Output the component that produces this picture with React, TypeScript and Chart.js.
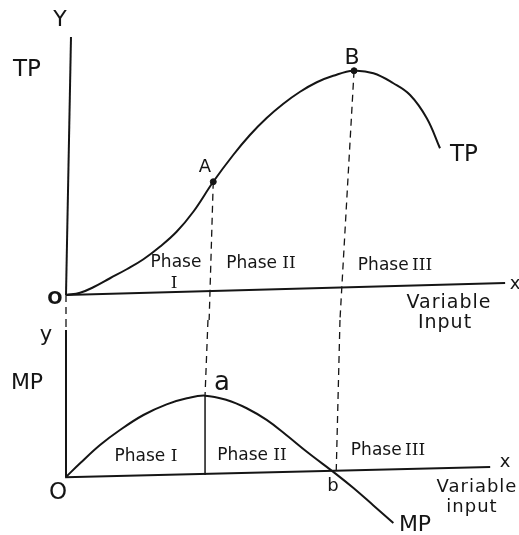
import React, { useEffect, useRef } from "react";
import { Chart, registerables } from "chart.js";
Chart.register(...registerables);

// ---------- DATA ----------
// Top panel: total product (TP) against variable input
const tpInput = [0, 0.48, 0.93, 1.5, 2.07, 2.64, 3.2, 3.77, 4.34, 5.02, 5.7, 6.27, 6.84, 7.41, 7.98, 8.55, 9.11, 9.8, 10.48, 11.16, 11.73, 12.3, 12.75];
const tpValues = [0, 0.9, 3.1, 6.7, 10.3, 14.3, 19.3, 25.3, 33.3, 45.3, 56, 64, 70.8, 76.5, 81.3, 85.1, 87.7, 89.7, 88.7, 84.7, 80, 70.7, 58.7];
// Key points on TP: A (inflection) and B (maximum)
const tpKeyInput = [5.02, 9.82];
const tpKeyValues = [45.3, 89.7];
// Bottom panel: marginal product (MP)
const mpInput = [0, 0.48, 1.16, 1.84, 2.64, 3.43, 4.12, 4.74, 5.48, 6.16, 6.84, 7.52, 8.21, 9.21, 9.8, 10.48, 11.16];
const mpValues = [-1.3, 7.8, 20, 30, 40, 47.1, 51.1, 52.9, 50, 44.5, 36.7, 26.5, 15.5, 0.6, -8.7, -20.3, -32];
// Key points on MP: a (maximum) and b (zero)
const mpKeyInput = [4.74, 9.21];
const mpKeyValues = [52.9, 0.6];
// Guide-line feet where the dashed drops cross the panel edges
const topDropInput = [0, 4.88, 9.34];
const bottomDropInput = [0, 4.84, 9.34];

const INK = "#151515";

type Lbl = { t: string; x: number; y: number; s: number; num?: string; ff?: string; w?: string; ls?: number };

const SANS = "'DejaVu Sans', sans-serif";
const SERIF = "'DejaVu Serif', serif";

function labelPlugin(id: string, labels: Lbl[]) {
  return {
    id,
    afterDraw(chart: any) {
      const ctx = chart.ctx as any;
      ctx.save();
      ctx.fillStyle = INK;
      ctx.textBaseline = "middle";
      for (const l of labels) {
        ctx.letterSpacing = `${l.ls || 0}px`;
        if (l.num) {
          ctx.font = `${l.s}px ${SANS}`;
          const w1 = ctx.measureText(l.t).width;
          ctx.font = `${l.s}px ${SERIF}`;
          const w2 = ctx.measureText(l.num).width;
          const start = l.x - (w1 + w2) / 2;
          ctx.textAlign = "left";
          ctx.font = `${l.s}px ${SANS}`;
          ctx.fillText(l.t, start, l.y);
          ctx.font = `${l.s}px ${SERIF}`;
          ctx.fillText(l.num, start + w1, l.y);
        } else {
          ctx.textAlign = "center";
          ctx.font = `${l.w || ""} ${l.s}px ${l.ff || SANS}`;
          ctx.fillText(l.t, l.x, l.y);
        }
      }
      ctx.restore();
    },
  };
}

const topLabels: Lbl[] = [
  { t: "Y", x: 60, y: 20, s: 22 },
  { t: "TP", x: 27, y: 70, s: 23 },
  { t: "O", x: 55, y: 299, s: 18, w: "bold" },
  { t: "A", x: 205, y: 167, s: 18 },
  { t: "B", x: 352, y: 58, s: 22 },
  { t: "TP", x: 464, y: 155, s: 23 },
  { t: "Phase", x: 176, y: 263, s: 17 },
  { t: "I", x: 174, y: 284, s: 17, ff: SERIF },
  { t: "Phase ", num: "II", x: 261, y: 264, s: 17 },
  { t: "Phase\u2009", num: "III", x: 395, y: 266, s: 17 },
  { t: "x", x: 515, y: 284, s: 18 },
  { t: "Variable", x: 449, y: 303, s: 19, ls: 1 },
  { t: "Input", x: 445, y: 323, s: 19, ls: 1 },
];

const bottomLabels: Lbl[] = [
  { t: "y", x: 46, y: 16, s: 21 },
  { t: "MP", x: 27, y: 63, s: 22 },
  { t: "a", x: 222, y: 63, s: 26 },
  { t: "O", x: 58, y: 173, s: 23 },
  { t: "b", x: 333, y: 166, s: 18 },
  { t: "MP", x: 415, y: 205, s: 22 },
  { t: "Phase ", num: "I", x: 146, y: 137, s: 17 },
  { t: "Phase ", num: "II", x: 252, y: 136, s: 17 },
  { t: "Phase\u2009", num: "III", x: 388, y: 131, s: 17 },
  { t: "x", x: 505, y: 142, s: 18 },
  { t: "Variable", x: 477, y: 167, s: 18, ls: 1 },
  { t: "input", x: 472, y: 187, s: 18, ls: 1 },
];

const line = (data: { x: number; y: number }[], opts: any = {}) => ({
  data,
  showLine: true,
  borderColor: INK,
  backgroundColor: INK,
  borderWidth: 1.3,
  pointRadius: 0,
  clip: false,
  ...opts,
});

function baseOptions(yMin: number, yMax: number, padTop: number, padBottom: number) {
  return {
    responsive: false,
    animation: false as const,
    devicePixelRatio: 1,
    layout: { padding: { left: 66, right: 13, top: padTop, bottom: padBottom } },
    plugins: { legend: { display: false }, tooltip: { enabled: false }, title: { display: false } },
    scales: {
      x: { type: "linear" as const, min: 0, max: 15, display: false },
      y: { type: "linear" as const, min: yMin, max: yMax, display: false },
    },
    events: [] as any[],
  };
}

export default function App() {
  const topRef = useRef<HTMLCanvasElement>(null);
  const botRef = useRef<HTMLCanvasElement>(null);

  useEffect(() => {
    document.body.style.margin = "0";
    const tpCurve = tpInput.map((x, i) => ({ x, y: tpValues[i] }));
    const mpCurve = mpInput.map((x, i) => ({ x, y: mpValues[i] }));
    const dash = [7, 5];

    const top = new Chart(topRef.current!, {
      type: "scatter",
      data: {
        datasets: [
          // axes
          line([{ x: 0, y: 0 }, { x: 14.97, y: 4.8 }], { borderWidth: 2 }),
          line([{ x: 0, y: 0 }, { x: 0.17, y: 103.2 }], { borderWidth: 2 }),
          // guide drops
          line([{ x: 0, y: 0 }, { x: topDropInput[0], y: -10 }], { borderDash: dash }),
          line([{ x: tpKeyInput[0], y: tpKeyValues[0] }, { x: topDropInput[1], y: -10 }], { borderDash: dash }),
          line([{ x: tpKeyInput[1], y: tpKeyValues[1] }, { x: topDropInput[2], y: -10 }], { borderDash: dash }),
          // TP curve
          line(tpCurve, { borderWidth: 2, tension: 0.4 }),
          // key points
          {
            data: tpKeyInput.map((x, i) => ({ x, y: tpKeyValues[i] })),
            pointRadius: 3,
            pointBackgroundColor: INK,
            pointBorderColor: INK,
            showLine: false,
            clip: false,
          },
        ],
      },
      options: baseOptions(-10, 104, 35, 15) as any,
      plugins: [labelPlugin("topLabels", topLabels)],
    });

    const bottom = new Chart(botRef.current!, {
      type: "scatter",
      data: {
        datasets: [
          // axes
          line([{ x: -0.03, y: -1.5 }, { x: 14.46, y: 5.3 }], { borderWidth: 2 }),
          line([{ x: bottomDropInput[0], y: 103.3 }, { x: 0, y: 96.7 }], { borderDash: dash }),
          line([{ x: 0, y: 96.7 }, { x: 0, y: -1.5 }], { borderWidth: 2 }),
          // guide drops
          line([{ x: bottomDropInput[1], y: 103.3 }, { x: mpKeyInput[0], y: mpKeyValues[0] }], { borderDash: dash }),
          line([{ x: mpKeyInput[0], y: mpKeyValues[0] }, { x: mpKeyInput[0], y: 0 }], { borderWidth: 1.5 }),
          line([{ x: bottomDropInput[2], y: 103.3 }, { x: mpKeyInput[1], y: mpKeyValues[1] }], { borderDash: dash }),
          // MP curve
          line(mpCurve, { borderWidth: 2, tension: 0.4 }),
        ],
      },
      options: baseOptions(-40, 100, 5, 0) as any,
      plugins: [labelPlugin("bottomLabels", bottomLabels)],
    });

    return () => {
      top.destroy();
      bottom.destroy();
    };
  }, []);

  return (
    <div style={{ position: "relative", width: 519, height: 535, background: "#fff" }}>
      <canvas ref={botRef} width={519} height={215} style={{ position: "absolute", left: 0, top: 320, display: "block" }} />
      <canvas ref={topRef} width={519} height={335} style={{ position: "absolute", left: 0, top: 0, display: "block" }} />
    </div>
  );
}
